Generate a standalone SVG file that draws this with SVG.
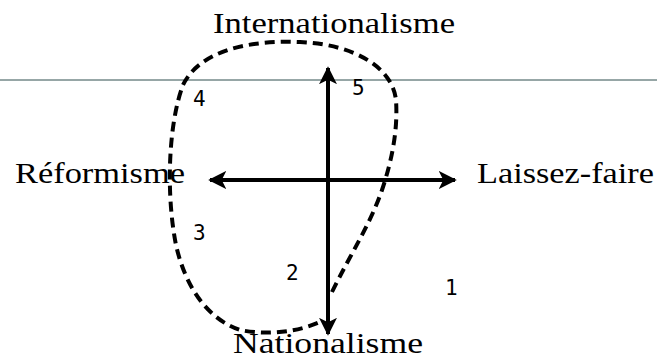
<svg xmlns="http://www.w3.org/2000/svg" width="657" height="358" viewBox="0 0 657 358">
<style>
.lbl{font-family:"Liberation Serif","Times New Roman",serif;font-size:30px;fill:#000}
.num{font-family:"DejaVu Sans Mono","Liberation Mono",monospace;font-size:21px;fill:#000}
.ax{stroke:#000;stroke-width:4;fill:none}
.loop{stroke:#000;stroke-width:4;fill:none;stroke-dasharray:10 6}
</style>
<defs>
<marker id="ah" viewBox="0 0 10 10" refX="9" refY="5" markerWidth="4.5" markerHeight="4.5" orient="auto" markerUnits="strokeWidth">
<path d="M0,0 L10,5 L0,10 L2.5,5 z" fill="#000"/>
</marker>
</defs>
<line x1="0" y1="80" x2="657" y2="80" stroke="#2f4f4f" stroke-width="1"/>
<g id="connectors">
<line class="ax" x1="328" y1="180" x2="328" y2="68" marker-end="url(#ah)"/>
<line class="ax" x1="328" y1="180" x2="328" y2="334" marker-end="url(#ah)"/>
<line class="ax" x1="328" y1="180" x2="210" y2="180" marker-end="url(#ah)"/>
<line class="ax" x1="328" y1="180" x2="455" y2="180" marker-end="url(#ah)"/>
<path class="loop" d="M332,292 C350,255 370,225 382,190 C392,160 398,130 396,100 C392,65 350,44 300,42 C250,40 200,50 183,85 C168,125 166,195 176,245 C186,290 210,320 240,330 C265,335 295,333 320,322"/>
</g>
<g id="n-internationalisme"><text class="lbl" x="213" y="33" textLength="242" lengthAdjust="spacingAndGlyphs">Internationalisme</text></g>
<g id="n-reformisme"><text class="lbl" x="15" y="183" textLength="170" lengthAdjust="spacingAndGlyphs">Réformisme</text></g>
<g id="n-laissezfaire"><text class="lbl" x="477" y="183" textLength="177" lengthAdjust="spacingAndGlyphs">Laissez-faire</text></g>
<g id="n-nationalisme"><text class="lbl" x="233" y="353" textLength="190" lengthAdjust="spacingAndGlyphs">Nationalisme</text></g>
<g id="n-1"><text class="num" x="445" y="295">1</text></g>
<g id="n-2"><text class="num" x="286" y="280">2</text></g>
<g id="n-3"><text class="num" x="193" y="240">3</text></g>
<g id="n-4"><text class="num" x="193" y="106">4</text></g>
<g id="n-5"><text class="num" x="352" y="95">5</text></g>
</svg>
